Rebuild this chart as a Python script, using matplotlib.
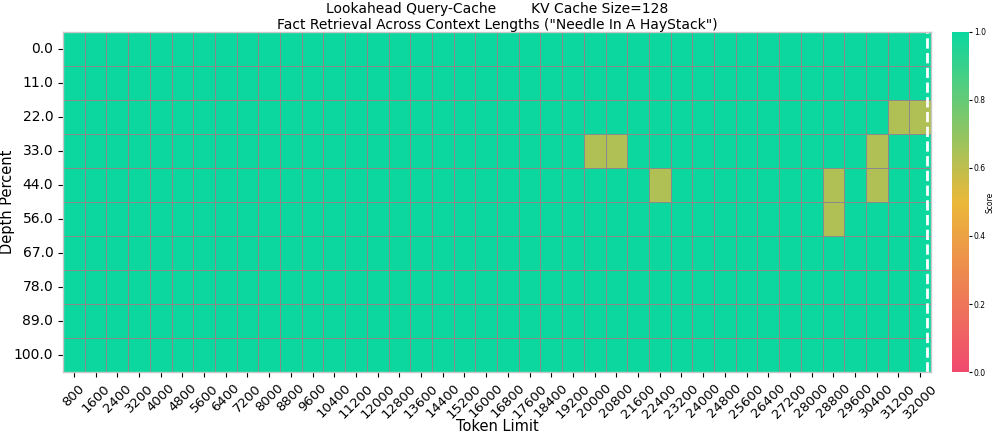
import numpy as np
import pandas as pd
import matplotlib
matplotlib.use('Agg')
import matplotlib.pyplot as plt
import seaborn as sns
from matplotlib.colors import LinearSegmentedColormap

# Axes of the grid
depth_percents = [0.0, 11.0, 22.0, 33.0, 44.0, 56.0, 67.0, 78.0, 89.0, 100.0]
token_limits = [800, 1600, 2400, 3200, 4000, 4800, 5600, 6400, 7200, 8000,
                8800, 9600, 10400, 11200, 12000, 12800, 13600, 14400, 15200, 16000,
                16800, 17600, 18400, 19200, 20000, 20800, 21600, 22400, 23200, 24000,
                24800, 25600, 26400, 27200, 28000, 28800, 29600, 30400, 31200, 32000]

# every cell scores 1.0 except these (depth, token limit, score)
misses = [
    (22.0, 31200, 0.63), (22.0, 32000, 0.63),
    (33.0, 20000, 0.63), (33.0, 20800, 0.63), (33.0, 30400, 0.63),
    (44.0, 22400, 0.63), (44.0, 28800, 0.63), (44.0, 30400, 0.63),
    (56.0, 28800, 0.63),
]

title_text = 'Lookahead Query-Cache        KV Cache Size=128\nFact Retrieval Across Context Lengths ("Needle In A HayStack")'
last_index = 39  # pretrained length column

scores = pd.DataFrame(1.0, index=depth_percents, columns=token_limits)
for d, t, s in misses:
    scores.loc[d, t] = s

cmap = LinearSegmentedColormap.from_list("custom_cmap", ["#F0496E", "#EBB839", "#0CD79F"])

fig = plt.figure(figsize=(9.97, 4.32), dpi=100)
ax = fig.add_axes([63 / 997, 60 / 432, 868 / 997, 340 / 432])
cax = fig.add_axes([952 / 997, 60 / 432, 17 / 997, 340 / 432])

sns.heatmap(scores, vmin=0, vmax=1, cmap=cmap, ax=ax, cbar_ax=cax,
            cbar_kws={'label': 'Score'}, linewidths=0.7, linecolor='#8a8a8a')

ax.set_title(title_text, fontsize=10, pad=2)
ax.set_xticklabels([str(t) for t in token_limits], rotation=45, fontsize=9.5)
ax.set_yticklabels([str(d) for d in depth_percents], rotation=0, fontsize=10)
ax.set_xlabel('Token Limit', fontsize=10.5)
ax.set_ylabel('Depth Percent', fontsize=10.5)
ax.xaxis.set_label_coords(0.5, -0.138)
ax.xaxis.label.set_va('top')
ax.yaxis.set_label_coords(-0.0555, 0.5)
ax.axvline(x=last_index + 0.8, color='white', linestyle='--', linewidth=2)

# light outline round the grid
for sp in ax.spines.values():
    sp.set_visible(True)
    sp.set_color('#c8c8c8')
    sp.set_linewidth(1)

cax.tick_params(labelsize=5.5, length=2, pad=1.5)
cax.set_ylabel('Score', fontsize=5.5, labelpad=0)

fig.savefig('out.png', dpi=100)
